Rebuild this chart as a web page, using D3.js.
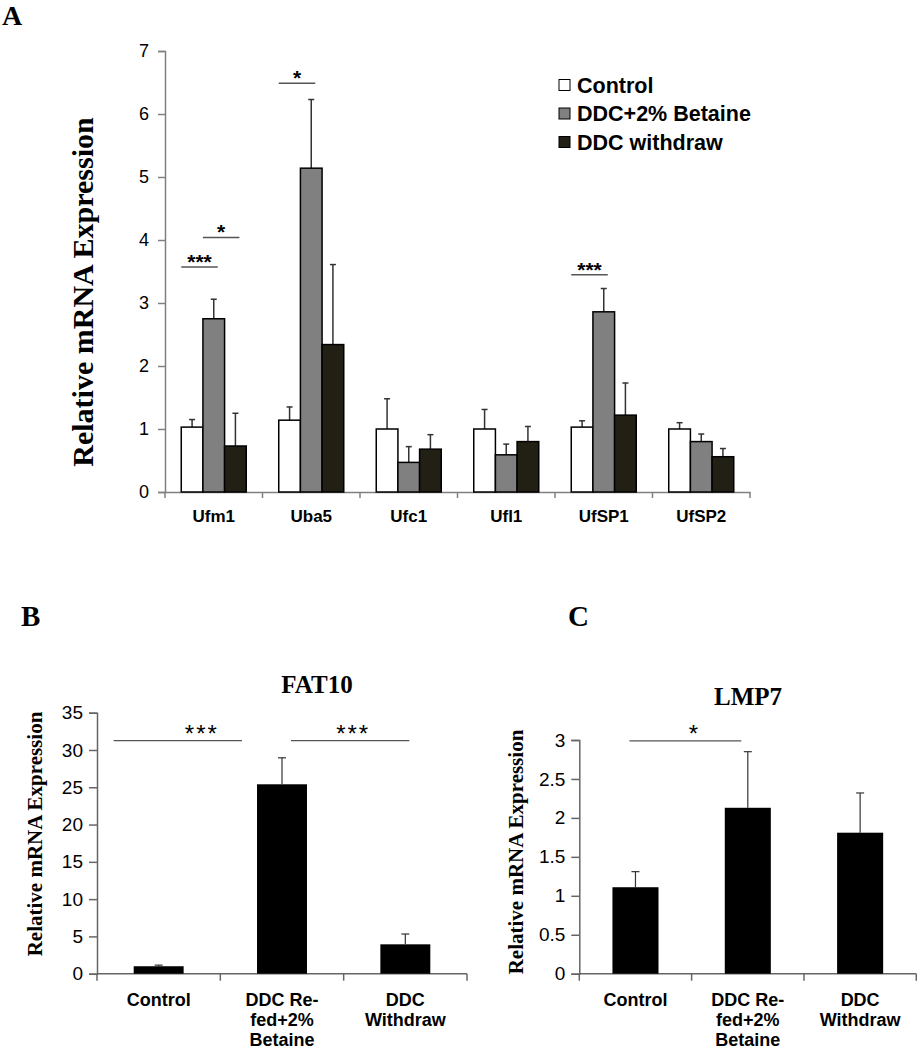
<!DOCTYPE html>
<html><head><meta charset="utf-8">
<script src="https://cdn.jsdelivr.net/npm/d3@7"></script>
<style>
body{margin:0;background:#fff;}
svg{display:block;}
</style></head>
<body>
<svg id="chart" width="917" height="1050"></svg>
<script>
// ---------- Panel A data ----------
const genesA = ["Ufm1","Uba5","Ufc1","Ufl1","UfSP1","UfSP2"];
const seriesA = ["Control","DDC+2% Betaine","DDC withdraw"];
const controlA   = [1.03,1.14,1.00,1.00,1.03,1.00];
const controlErrA= [0.12,0.21,0.48,0.31,0.10,0.10];
const betaineA   = [2.75,5.14,0.47,0.59,2.86,0.80];
const betaineErrA= [0.31,1.09,0.25,0.17,0.37,0.12];
const withdrawA  = [0.73,2.34,0.68,0.80,1.22,0.56];
const withdrawErrA=[0.52,1.27,0.23,0.24,0.51,0.13];
const ticksA = [0,1,2,3,4,5,6,7];
const sigA = [
  {gene:"Ufm1", from:0, to:1, y:3.57, label:"***"},
  {gene:"Ufm1", from:1, to:2, y:4.04, label:"*"},
  {gene:"Uba5", from:0, to:1, y:6.49, label:"*"},
  {gene:"UfSP1",from:0, to:1, y:3.45, label:"***"}
];

// ---------- Panel B / C data ----------
const groupsBC = [["Control"],["DDC Re-","fed+2%","Betaine"],["DDC","Withdraw"]];
const fat10Vals = [1.0, 25.4, 3.94];
const fat10Err  = [0.15, 3.55, 1.38];
const fat10Ticks = [0,5,10,15,20,25,30,35];
const fat10Sig = [{from:0,to:1,y:31.25,label:"***"},{from:1,to:2,y:31.25,label:"***"}];
const lmp7Vals = [1.11, 2.13, 1.81];
const lmp7Err  = [0.20, 0.72, 0.51];
const lmp7Ticks = [0,0.5,1,1.5,2,2.5,3];
const lmp7Sig = [{from:0,to:1,y:2.99,label:"*"}];

const svg = d3.select("#chart");
const SERIF = "'Liberation Serif','Times New Roman',serif";
const SANS = "'Liberation Sans',Arial,sans-serif";
const AXIS = "#808080";

// ---------- Panel A ----------
(function(){
  const g = svg.append("g");
  g.append("text").attr("x",2).attr("y",25).attr("font-family",SERIF).attr("font-weight","bold")
    .attr("font-size",28).text("A");
  const x = d3.scaleBand().domain(genesA).range([165,750]).padding(0);
  const bw = x.bandwidth();
  const xs = d3.scaleBand().domain(d3.range(3)).range([bw/6, bw*5/6]).padding(0);
  const y = d3.scaleLinear().domain([0,7]).range([492,51]);
  const vals = [controlA, betaineA, withdrawA];
  const errs = [controlErrA, betaineErrA, withdrawErrA];
  const fills = ["#ffffff","#808080","#221f14"];

  // y axis
  const ya = g.append("g").attr("transform","translate(165,0)")
    .call(d3.axisLeft(y).tickValues(ticksA).tickSize(7).tickPadding(9).tickFormat(d3.format("d")));
  ya.selectAll("path,line").attr("stroke",AXIS).attr("stroke-width",1.5);
  ya.selectAll("text").attr("font-family",SANS).attr("font-size",18).attr("fill","#000");
  // x axis
  const xa = g.append("g").attr("transform","translate(0,492)")
    .call(d3.axisBottom(x).tickSize(0).tickPadding(18));
  xa.select("path").attr("stroke",AXIS).attr("stroke-width",1.5);
  xa.selectAll("text").attr("font-family",SANS).attr("font-weight","bold").attr("font-size",17).attr("fill","#000");
  g.append("g").selectAll("line").data(d3.range(genesA.length+1)).join("line")
    .attr("x1",i=>x.range()[0]+i*bw).attr("x2",i=>x.range()[0]+i*bw)
    .attr("y1",492).attr("y2",498).attr("stroke",AXIS).attr("stroke-width",1.5);

  // bars
  const data = [];
  genesA.forEach((gn,i)=>{ for(let s=0;s<3;s++) data.push({gene:gn,s,v:vals[s][i],e:errs[s][i]}); });
  const eb = g.append("g").attr("stroke","#333").attr("stroke-width",1.5);
  eb.selectAll("line.v").data(data).join("line")
    .attr("x1",d=>x(d.gene)+xs(d.s)+xs.bandwidth()/2).attr("x2",d=>x(d.gene)+xs(d.s)+xs.bandwidth()/2)
    .attr("y1",d=>y(d.v)).attr("y2",d=>y(d.v+d.e));
  eb.selectAll("line.c").data(data).join("line")
    .attr("x1",d=>x(d.gene)+xs(d.s)+xs.bandwidth()/2-3).attr("x2",d=>x(d.gene)+xs(d.s)+xs.bandwidth()/2+3)
    .attr("y1",d=>y(d.v+d.e)).attr("y2",d=>y(d.v+d.e));
  g.append("g").selectAll("rect").data(data).join("rect")
    .attr("x",d=>x(d.gene)+xs(d.s)).attr("width",xs.bandwidth())
    .attr("y",d=>y(d.v)).attr("height",d=>y(0)-y(d.v))
    .attr("fill",d=>fills[d.s]).attr("stroke","#000").attr("stroke-width",1.5);

  // significance
  sigA.forEach(s=>{
    const x1 = x(s.gene)+xs(s.from);
    const x2 = x(s.gene)+xs(s.to)+xs.bandwidth()/2+4;
    g.append("line").attr("x1",x1).attr("x2",x2).attr("y1",y(s.y)).attr("y2",y(s.y))
      .attr("stroke","#555").attr("stroke-width",1.5);
    g.append("text").attr("x",(x1+x2)/2).attr("y",y(s.y)+2).attr("text-anchor","middle")
      .attr("font-family",SANS).attr("font-weight","bold").attr("font-size",21).text(s.label);
  });

  // y title
  g.append("text").attr("transform","translate(93,292) rotate(-90)").attr("text-anchor","middle")
    .attr("font-family",SERIF).attr("font-weight","bold").attr("font-size",30).text("Relative mRNA Expression");

  // legend
  const lg = g.append("g");
  seriesA.forEach((name,i)=>{
    const cy = 85 + i*28.5;
    lg.append("rect").attr("x",559).attr("y",cy-5.5).attr("width",11).attr("height",11)
      .attr("fill",fills[i]).attr("stroke","#000").attr("stroke-width",1);
    lg.append("text").attr("x",577).attr("y",cy+7.5).attr("font-family",SANS).attr("font-weight","bold")
      .attr("font-size",21.5).text(name);
  });
})();

// ---------- Panels B & C ----------
function smallPanel(opt){
  const g = svg.append("g");
  g.append("text").attr("x",opt.labelX).attr("y",626).attr("font-family",SERIF).attr("font-weight","bold")
    .attr("font-size",29).text(opt.letter);
  const x = d3.scaleBand().domain(d3.range(3)).range([opt.x0,opt.x1]).padding(0);
  const bw = x.bandwidth();
  const y = d3.scaleLinear().domain([0,opt.max]).range([973.7,opt.topY]);
  const ya = g.append("g").attr("transform",`translate(${opt.x0},0)`)
    .call(d3.axisLeft(y).tickValues(opt.ticks).tickSize(8).tickPadding(6).tickFormat(d=>String(d)));
  ya.selectAll("path,line").attr("stroke","#666").attr("stroke-width",1.5);
  ya.selectAll("text").attr("font-family",SANS).attr("font-size",19).attr("fill","#000");
  g.append("line").attr("x1",opt.x0).attr("x2",opt.x1).attr("y1",y(0)).attr("y2",y(0))
    .attr("stroke","#666").attr("stroke-width",1.5);
  g.append("g").selectAll("line").data(d3.range(4)).join("line")
    .attr("x1",i=>opt.x0+i*bw).attr("x2",i=>opt.x0+i*bw).attr("y1",y(0)).attr("y2",y(0)+7)
    .attr("stroke","#666").attr("stroke-width",1.5);
  const data = opt.vals.map((v,i)=>({i,v,e:opt.errs[i]}));
  const barW = bw*opt.barFrac;
  const eb = g.append("g").attr("stroke","#333").attr("stroke-width",1.2);
  eb.selectAll("line.v").data(data).join("line")
    .attr("x1",d=>x(d.i)+bw/2).attr("x2",d=>x(d.i)+bw/2).attr("y1",d=>y(d.v)).attr("y2",d=>y(d.v+d.e));
  eb.selectAll("line.c").data(data).join("line")
    .attr("x1",d=>x(d.i)+bw/2-4).attr("x2",d=>x(d.i)+bw/2+4).attr("y1",d=>y(d.v+d.e)).attr("y2",d=>y(d.v+d.e));
  g.append("g").selectAll("rect").data(data).join("rect")
    .attr("x",d=>x(d.i)+bw/2-barW/2).attr("width",barW)
    .attr("y",d=>y(d.v)).attr("height",d=>y(0)-y(d.v)).attr("fill","#000");
  // category labels
  groupsBC.forEach((lines,i)=>{
    const t = g.append("text").attr("text-anchor","middle").attr("font-family",SANS)
      .attr("font-weight","bold").attr("font-size",18);
    lines.forEach((ln,k)=>t.append("tspan").attr("x",x(i)+bw/2).attr("y",1006+k*20).text(ln));
  });
  // title
  g.append("text").attr("x",opt.titleX).attr("y",opt.titleY).attr("text-anchor","middle")
    .attr("font-family",SERIF).attr("font-weight","bold").attr("font-size",25).text(opt.title);
  // y title
  g.append("text").attr("transform",`translate(${opt.ytX},${opt.ytY}) rotate(-90)`).attr("text-anchor","middle")
    .attr("font-family",SERIF).attr("font-weight","bold").attr("font-size",21).text("Relative mRNA Expression");
  // significance
  opt.sig.forEach((s,k)=>{
    const off = opt.sigOff[k];
    const x1 = x(s.from)+bw/2+off[0], x2 = x(s.to)+bw/2+off[1];
    g.append("line").attr("x1",x1).attr("x2",x2).attr("y1",y(s.y)).attr("y2",y(s.y))
      .attr("stroke","#555").attr("stroke-width",1.2);
    g.append("text").attr("x",(x1+x2)/2+off[2]).attr("y",y(s.y)+1).attr("text-anchor","middle")
      .attr("font-family",SANS).attr("font-size",24).attr("letter-spacing",2).text(s.label);
  });
}

smallPanel({letter:"B",labelX:21,x0:97,x1:467,max:35,topY:712.7,ticks:fat10Ticks,vals:fat10Vals,errs:fat10Err,
  barFrac:0.405,title:"FAT10",titleX:317,titleY:693,ytX:42,ytY:834,sig:fat10Sig,
  sigOff:[[-45,-40,24],[9,4,3]]});
smallPanel({letter:"C",labelX:568,x0:579.3,x1:916.3,max:3,topY:740,ticks:lmp7Ticks,vals:lmp7Vals,errs:lmp7Err,
  barFrac:0.41,title:"LMP7",titleX:748,titleY:705,ytX:523,ytY:852,sig:lmp7Sig,
  sigOff:[[-6,-6.5,9]]});
</script>
</body></html>
